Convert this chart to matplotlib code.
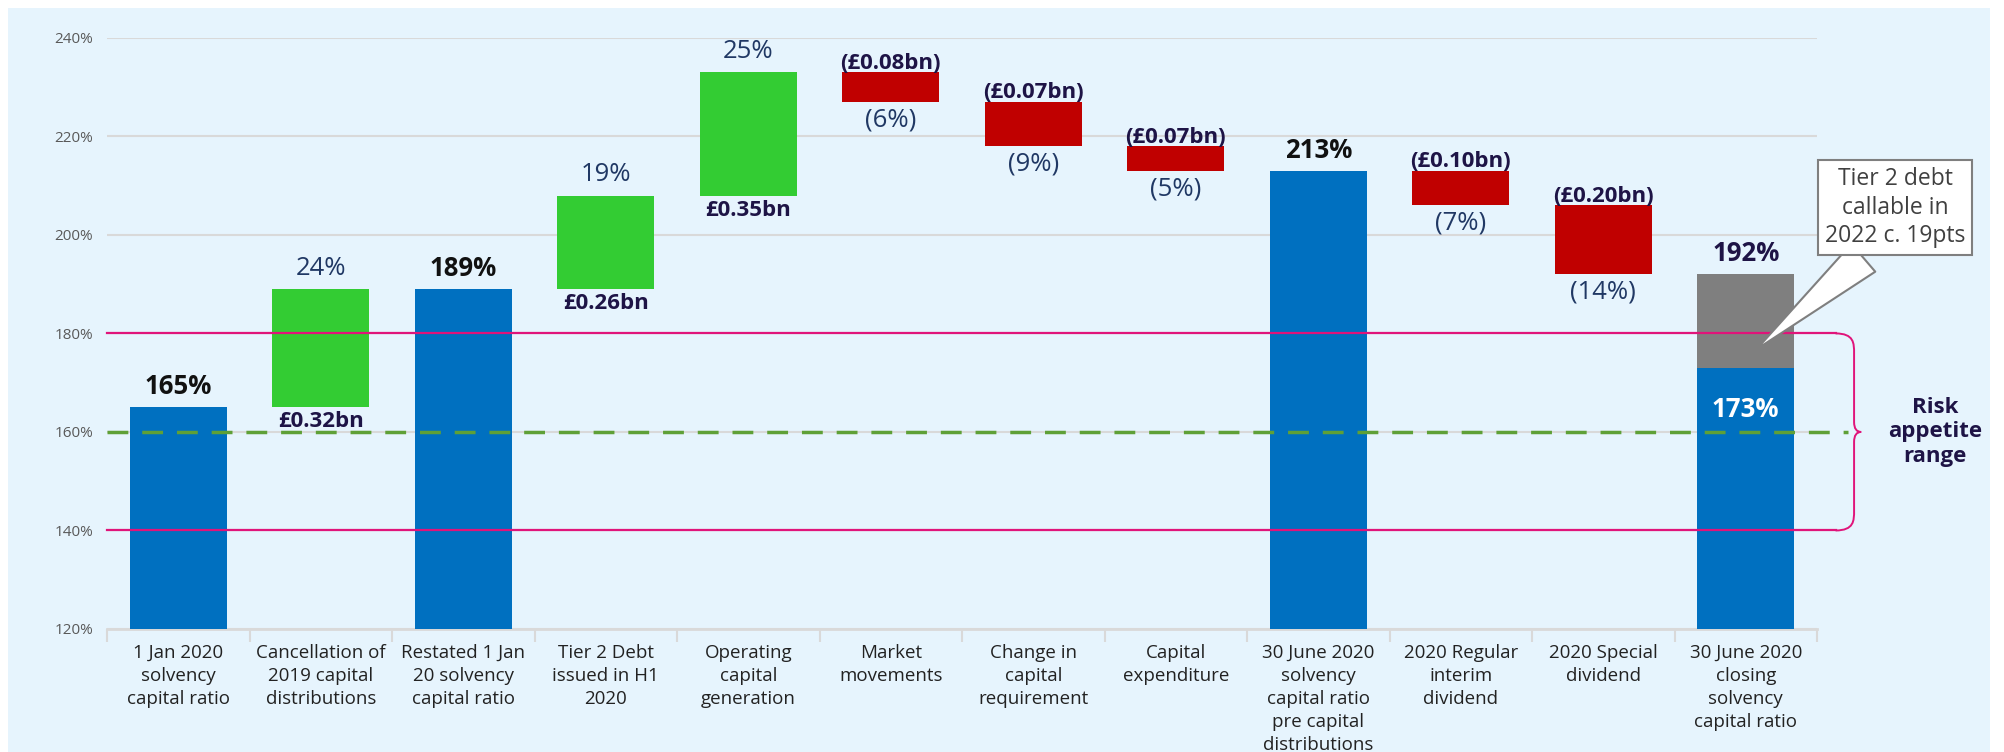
import numpy as np
import matplotlib.pyplot as plt
from matplotlib.patches import Rectangle, PathPatch
from matplotlib.path import Path

plt.rcParams['font.family'] = ['Open Sans', 'DejaVu Sans']

# Données du graphique (cascade du ratio de solvabilité)
categories = ['1 Jan 2020\nsolvency\ncapital ratio',
              'Cancellation of\n2019 capital\ndistributions',
              'Restated 1 Jan\n20 solvency\ncapital ratio',
              'Tier 2 Debt\nissued in H1\n2020',
              'Operating\ncapital\ngeneration',
              'Market\nmovements',
              'Change in\ncapital\nrequirement',
              'Capital\nexpenditure',
              '30 June 2020\nsolvency\ncapital ratio\npre capital\ndistributions',
              '2020 Regular\ninterim\ndividend',
              '2020 Special\ndividend',
              '30 June 2020\nclosing\nsolvency\ncapital ratio']
kinds = ['total', 'up', 'total', 'up', 'up', 'down', 'down', 'down', 'total', 'down', 'down', 'total']
values = [165, 24, 189, 19, 25, -6, -9, -5, 213, -7, -14, 192]
amounts = ['', '£0.32bn', '', '£0.26bn', '£0.35bn', '(£0.08bn)', '(£0.07bn)', '(£0.07bn)',
           '', '(£0.10bn)', '(£0.20bn)', '']
closing_ex_tier2 = 173
risk_low, risk_high, risk_mid = 140, 180, 160
base = 120

blue = '#0070C0'
green = '#33CC33'
red = '#C00000'
grey = '#7F7F7F'
pink = '#E0147A'
navy = '#203864'
dark = '#1E1446'
bg = '#E6F4FD'

fig = plt.figure(figsize=(20.04, 7.52), dpi=100)
fig.patch.set_facecolor('white')
fig.patches.append(Rectangle((8 / 2004, 0), 1982 / 2004, 744 / 752, transform=fig.transFigure,
                             facecolor=bg, edgecolor='none', zorder=-10))
ax = fig.add_axes([0.0534, 0.1636, 0.8533, 0.786])
ax.set_facecolor('none')

x = np.arange(len(categories))
w = 0.68
running = 0
for i, (k, v) in enumerate(zip(kinds, values)):
    if k == 'total':
        if i == len(values) - 1:
            ax.bar(i, closing_ex_tier2 - base, w, bottom=base, color=blue, zorder=3)
            ax.bar(i, v - closing_ex_tier2, w, bottom=closing_ex_tier2, color=grey, zorder=3)
            ax.annotate('%d%%' % v, (i, v), xytext=(0, 5), textcoords='offset points',
                        ha='center', va='bottom', fontsize=18.5, fontweight='bold', color=dark)
            ax.text(i, closing_ex_tier2 - 8.5, '%d%%' % closing_ex_tier2, ha='center', va='center',
                    fontsize=18.5, fontweight='bold', color='white', zorder=5)
        else:
            ax.bar(i, v - base, w, bottom=base, color=blue, zorder=3)
            ax.annotate('%d%%' % v, (i, v), xytext=(0, 5), textcoords='offset points',
                        ha='center', va='bottom', fontsize=18.5, fontweight='bold', color='#111111')
        running = v
    elif k == 'up':
        ax.bar(i, v, w, bottom=running, color=green, zorder=3)
        ax.annotate('%d%%' % v, (i, running + v), xytext=(0, 6), textcoords='offset points',
                    ha='center', va='bottom', fontsize=18.5, color=navy)
        ax.annotate(amounts[i], (i, running), xytext=(0, -3), textcoords='offset points',
                    ha='center', va='top', fontsize=16, fontweight='bold', color=dark)
        running += v
    else:
        ax.bar(i, v, w, bottom=running, color=red, zorder=3)
        ax.annotate(amounts[i], (i, running), xytext=(0, -1), textcoords='offset points',
                    ha='center', va='bottom', fontsize=16, fontweight='bold', color=dark)
        ax.annotate('(%d%%)' % -v, (i, running + v), xytext=(0, -4), textcoords='offset points',
                    ha='center', va='top', fontsize=18.5, color=navy)
        running += v

# Fourchette d'appétence au risque
x_end = 11.63
ax.plot([-0.5, x_end], [risk_high, risk_high], color=pink, lw=1.6, zorder=4, clip_on=False)
ax.plot([-0.5, x_end], [risk_low, risk_low], color=pink, lw=1.6, zorder=4, clip_on=False)
ax.plot([-0.5, 11.72], [risk_mid, risk_mid], color='#5FA037', lw=2.5, ls=(0, (6, 4)),
        zorder=4, clip_on=False)

bx, bw = x_end, 0.13
brace = Path([(bx, risk_high), (bx + bw, risk_high), (bx + bw, risk_high - 2), (bx + bw, risk_high - 4),
              (bx + bw, risk_mid + 2),
              (bx + bw, risk_mid), (bx + bw + 0.05, risk_mid),
              (bx + bw, risk_mid), (bx + bw, risk_mid - 2),
              (bx + bw, risk_low + 4),
              (bx + bw, risk_low + 2), (bx + bw, risk_low), (bx, risk_low)],
             [Path.MOVETO, Path.CURVE4, Path.CURVE4, Path.CURVE4,
              Path.LINETO,
              Path.CURVE3, Path.CURVE3,
              Path.CURVE3, Path.CURVE3,
              Path.LINETO,
              Path.CURVE4, Path.CURVE4, Path.CURVE4])
ax.add_patch(PathPatch(brace, fc='none', ec=pink, lw=1.4, clip_on=False, zorder=4))
ax.text(12.33, risk_mid, 'Risk\nappetite\nrange', ha='center', va='center', fontsize=16,
        fontweight='bold', color=dark, linespacing=1.2)

# Bulle Tier 2
ax.annotate('Tier 2 debt\ncallable in\n2022 c. 19pts', xy=(11.06, 176.4), xytext=(12.05, 205.5),
            ha='center', va='center', fontsize=16.5, color='#404040', linespacing=1.25,
            bbox=dict(boxstyle='square,pad=0.3', fc='white', ec='#7F7F7F', lw=1.5),
            arrowprops=dict(arrowstyle='wedge,tail_width=1.6', fc='white', ec='#7F7F7F', lw=1.5,
                            relpos=(0.35, 0.0)),
            annotation_clip=False, zorder=6)

ax.set_xlim(-0.5, len(categories) - 0.5)
ax.set_ylim(120, 240)
ax.set_yticks(range(120, 241, 20))
ax.set_yticklabels(['%d%%' % t for t in range(120, 241, 20)], fontsize=11, color='#595959')
ax.grid(axis='y', color='#D9D9D9', lw=1.5, zorder=0)
ax.tick_params(axis='y', length=0, pad=10)
ax.set_xticks(x)
ax.set_xticklabels(categories, fontsize=13.5, color='#222222', linespacing=1.35)
ax.set_xticks(np.arange(-0.5, len(categories), 1), minor=True)
ax.tick_params(axis='x', which='major', length=0, pad=11)
ax.tick_params(axis='x', which='minor', length=9, width=1.5, color='#D9D9D9')
for s in ['top', 'right', 'left']:
    ax.spines[s].set_visible(False)
ax.spines['bottom'].set_color('#D9D9D9')
ax.spines['bottom'].set_linewidth(2)

plt.savefig('out.png', dpi=100)
